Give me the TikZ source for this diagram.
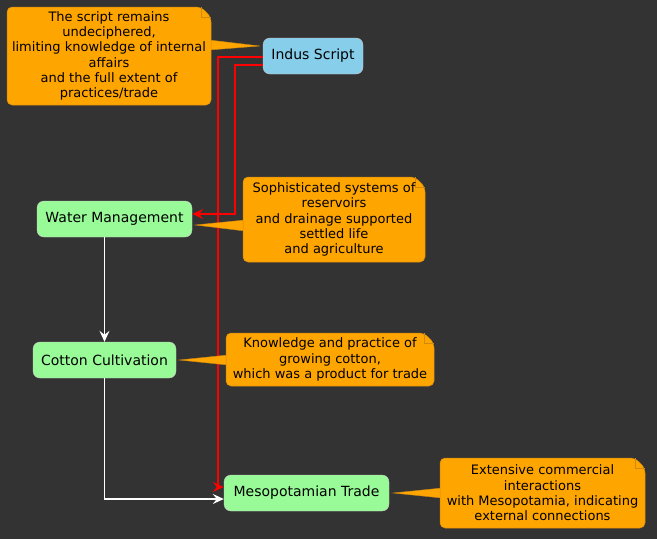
\documentclass[tikz,border=0pt]{standalone}
\usepackage{fontspec}
\setmainfont{DejaVu Sans}
\usetikzlibrary{calc,arrows.meta}
\definecolor{bgdark}{HTML}{333333}
\definecolor{skyblue}{HTML}{87CEEB}
\definecolor{palegreen}{HTML}{98FB98}
\definecolor{notefill}{HTML}{FFA500}
\definecolor{noteline}{HTML}{D08A10}
\definecolor{linkred}{HTML}{FF0000}
\begin{document}
\begin{tikzpicture}[x=1pt,y=-1pt]
	\tikzset{stepnode/.style={rounded corners=7pt, draw=gray!40, line width=0.4pt,
				minimum height=36pt, inner sep=0pt, text=black,
				font=\fontsize{14}{16}\selectfont}}
	\tikzset{notetext/.style={align=center, inner sep=0pt, text=black,
				font=\fontsize{13}{15.3}\selectfont}}
	\tikzset{noteshape/.style={fill=notefill, draw=noteline, line width=0.5pt, rounded corners=5pt}}
	\tikzset{notetail/.style={fill=notefill, draw=noteline, line width=0.4pt, sharp corners}}
	\tikzset{redlink/.style={draw=linkred, line width=1.5pt,
				-{Stealth[length=11pt,width=10pt,inset=4pt]}}}
	\tikzset{whitelink/.style={draw=white, line width=1.5pt,
				-{Stealth[length=11pt,width=10pt,inset=4pt]}}}

	\useasboundingbox (0,0) rectangle (657,539);
	\fill[bgdark] (0,0) rectangle (657,539);

		% the four steps
		\node[stepnode, fill=skyblue, minimum width=100pt] (indus) at (313,56) {Indus Script};
		\node[stepnode, fill=palegreen, minimum width=155pt] (water) at (114.5,219) {Water Management};
		\node[stepnode, fill=palegreen, minimum width=143pt] (cotton) at (104.5,360) {Cotton Cultivation};
		\node[stepnode, fill=palegreen, minimum width=165pt] (meso) at (306.5,493) {Mesopotamian Trade};

		% links
		\draw[redlink] ($(indus.west)+(0,1)$) -- ++(-45,0) |- ($(meso.west)+(0,-6)$);
		\draw[redlink] ($(indus.west)+(0,9)$) -- ++(-28,0) |- ($(water.east)+(0,-5)$);
		\draw[whitelink] (water.south -| cotton.north) -- (cotton.north);
		\draw[whitelink] (cotton.south) |- ($(meso.west)+(0,6)$);

		% notes
		\path[notetail] (209,40) -- ($(indus.west)+(-3,-10)$) -- (209,50) -- cycle;
		\path[noteshape] (7,7) -- (201,7) -- (211,17) -- (211,105) -- (7,105) -- cycle;
		\draw[noteline, line width=0.5pt] (201,7) -- (201,17) -- (211,17);
		\node[notetext] (n1) at (109,56) {The script remains\\undeciphered,\\limiting knowledge of internal\\affairs\\and the full extent of\\practices/trade};

		\path[notetail] (245,220) -- ($(water.east)+(3,6)$) -- (245,231) -- cycle;
		\path[noteshape] (243,177) -- (415,177) -- (425,187) -- (425,262) -- (243,262) -- cycle;
		\draw[noteline, line width=0.5pt] (415,177) -- (415,187) -- (425,187);
		\node[notetext] (n2) at (334,219.5) {Sophisticated systems of\\reservoirs\\and drainage supported\\settled life\\and agriculture};

		\path[notetail] (228,355) -- ($(cotton.east)+(3,0)$) -- (228,365) -- cycle;
		\path[noteshape] (226,333) -- (424,333) -- (434,343) -- (434,386) -- (226,386) -- cycle;
		\draw[noteline, line width=0.5pt] (424,333) -- (424,343) -- (434,343);
		\node[notetext] (n3) at (330,359.5) {Knowledge and practice of\\growing cotton,\\which was a product for trade};

		\path[notetail] (442,488) -- ($(meso.east)+(4,0)$) -- (442,498) -- cycle;
		\path[noteshape] (440,458) -- (635,458) -- (645,468) -- (645,528) -- (440,528) -- cycle;
		\draw[noteline, line width=0.5pt] (635,458) -- (635,468) -- (645,468);
		\node[notetext] (n4) at (542.5,493) {Extensive commercial\\interactions\\with Mesopotamia, indicating\\external connections};
\end{tikzpicture}
\end{document}
